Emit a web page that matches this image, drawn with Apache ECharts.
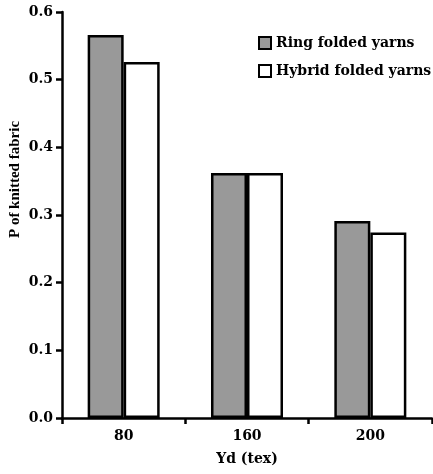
<!DOCTYPE html>
<html><head><meta charset="utf-8">
<script src="https://cdn.jsdelivr.net/npm/echarts@6/dist/echarts.min.js"></script>
<style>html,body{margin:0;padding:0;background:#fff}#c{width:433px;height:474px}</style>
</head><body><div id="c"></div>
<script>
const categories = ['80', '160', '200'];
const ringValues = [0.566, 0.362, 0.291];
const hybridValues = [0.526, 0.362, 0.274];
const seriesNames = ['Ring folded yarns', 'Hybrid folded yarns'];
const yTicks = [0, 0.1, 0.2, 0.3, 0.4, 0.5, 0.6];

const font = 'DejaVu Serif';
const chart = echarts.init(document.getElementById('c'), null, {renderer: 'canvas'});
chart.setOption({
  animation: false,
  backgroundColor: '#fff',
  grid: {left: 62, right: 1, top: 12, bottom: 56, containLabel: false, outerBoundsMode: 'none'},
  legend: {
    orient: 'vertical', left: 253, top: 31, itemWidth: 12, itemHeight: 12, itemGap: 14, icon: 'rect',
    textStyle: {fontFamily: font, fontWeight: 'bold', fontSize: 14, color: '#000'},
    data: seriesNames
  },
  xAxis: {
    type: 'category', data: categories,
    name: 'Yd (tex)', nameLocation: 'middle', nameGap: 34,
    nameTextStyle: {fontFamily: font, fontWeight: 'bold', fontSize: 14, color: '#000'},
    axisLine: {lineStyle: {color: '#000', width: 2.5}},
    axisTick: {show: true, length: 6, lineStyle: {color: '#000', width: 2.5}},
    axisLabel: {fontFamily: font, fontWeight: 'bold', fontSize: 14, color: '#000', margin: 11}
  },
  yAxis: {
    type: 'value', min: yTicks[0], max: yTicks[yTicks.length - 1], interval: 0.1,
    name: 'P of knitted fabric', nameLocation: 'middle', nameGap: 39, nameMoveOverlap: false,
    nameTextStyle: {fontFamily: 'Liberation Serif', fontWeight: 'bold', fontSize: 15, color: '#000',
      padding: [0, 0, 0, 71]},
    splitLine: {show: false},
    axisLine: {show: true, lineStyle: {color: '#000', width: 2.5}},
    axisTick: {show: true, length: 6, lineStyle: {color: '#000', width: 2.5}},
    axisLabel: {fontFamily: font, fontWeight: 'bold', fontSize: 14, color: '#000', margin: 9,
      formatter: v => v.toFixed(1)}
  },
  series: [
    {name: seriesNames[0], type: 'bar', data: ringValues, barWidth: 36, barGap: '0%',
      itemStyle: {color: '#999999', borderColor: '#000', borderWidth: 2.5}},
    {name: seriesNames[1], type: 'bar', data: hybridValues, barWidth: 36, barGap: '0%',
      itemStyle: {color: '#ffffff', borderColor: '#000', borderWidth: 2.5}}
  ]
});
</script></body></html>
